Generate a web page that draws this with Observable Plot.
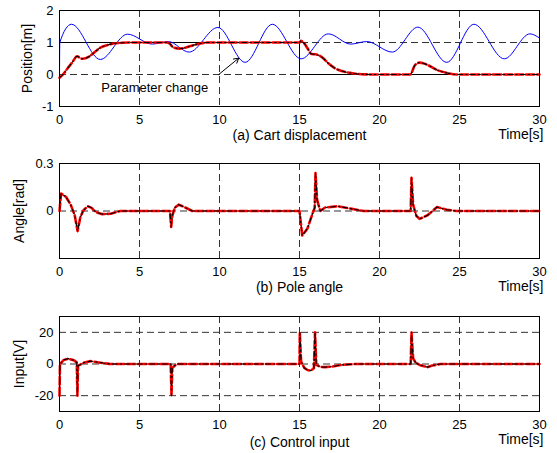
<!DOCTYPE html>
<html><head><meta charset="utf-8">
<script src="https://cdn.jsdelivr.net/npm/d3@7"></script>
<script src="https://cdn.jsdelivr.net/npm/@observablehq/plot@0.6"></script>
<style>
html,body{margin:0;padding:0;background:#fff;}
#chart svg{display:block;}
</style></head><body><div id="chart"></div>
<script>
// ---- shared axis values ----
const timeTicks = [0, 5, 10, 15, 20, 25, 30];
const timeGrid = [5, 10, 15, 20, 25];

// ---- (a) Cart displacement ----
const posTicks = [-1, 0, 1, 2];
const posGrid = [0, 1];
const refT = [0, 15, 15, 30];
const refVal = [1, 1, 0, 0];
const blueT = [0, 0.02, 0.75, 2.55, 4.25, 5.8, 6.8, 8.1, 9.9, 11.6, 13.3, 15.1, 16.8, 18.2, 19.2, 20.8, 22.4, 24.2, 25.9, 27.8, 29.4, 30];
const blueVal = [0, 1.0, 1.57, 0.47, 1.26, 0.95, 1.03, 0.70, 1.47, 0.38, 1.57, 0.49, 1.27, 0.95, 1.03, 0.70, 1.48, 0.38, 1.57, 0.49, 1.27, 1.14];
const posT = [0, 0.25, 0.5, 0.8, 1.1, 1.3, 1.45, 1.85, 2.2, 2.56, 3.0, 3.4, 3.9, 4.4, 6.7, 6.9, 7.1, 7.5, 7.8, 8.2, 8.8, 9.3, 15.0, 15.1, 15.3, 15.5, 15.75, 16.0, 16.2, 16.5, 16.8, 17.2, 17.7, 18.3, 18.9, 19.5, 21.9, 22.0, 22.2, 22.5, 22.8, 23.0, 23.6, 24.2, 24.8, 30];
const posVal = [-0.1, 0.02, 0.19, 0.38, 0.57, 0.51, 0.49, 0.56, 0.70, 0.84, 0.92, 0.97, 0.99, 1.0, 1.0, 0.96, 0.85, 0.81, 0.83, 0.89, 0.97, 1.0, 1.0, 1.05, 0.97, 0.82, 0.64, 0.63, 0.60, 0.50, 0.35, 0.20, 0.10, 0.04, 0.01, 0, 0, 0.05, 0.28, 0.37, 0.34, 0.30, 0.14, 0.05, 0, 0];
const noteText = ["Parameter change"];
const noteAt = [5.95, -0.42];
const arrowFrom = [9.95, 0];
const arrowTo = [11.2, 0.51];

// ---- (b) Pole angle ----
const angTicks = [0, 0.3];
const angGrid = [0];
const angT = [0, 0.1, 0.4, 0.7, 0.95, 1.13, 1.3, 1.5, 1.77, 2.0, 2.25, 2.67, 3.2, 3.8, 6.9, 6.98, 7.05, 7.2, 7.45, 7.8, 8.3, 15.0, 15.17, 15.5, 15.8, 15.95, 16.0, 16.1, 16.3, 16.6, 17.4, 18.2, 19.0, 21.95, 22.0, 22.1, 22.3, 22.5, 23.0, 23.6, 24.2, 24.8, 30];
const angVal = [0, 0.11, 0.09, 0.04, -0.027, -0.127, -0.04, 0.005, 0.03, 0.02, -0.006, -0.02, -0.017, 0, 0, -0.10, -0.03, 0.02, 0.04, 0.025, 0, 0, -0.155, -0.11, -0.02, 0.02, 0.24, 0.07, 0, 0.022, 0.03, 0.015, 0, 0, 0.21, 0.04, -0.03, -0.05, -0.027, 0.025, 0.008, 0, 0];

// ---- (c) Control input ----
const inpTicks = [-20, 0, 20];
const inpGrid = [-20, 0, 20];
const inpT = [0, 0.03, 0.27, 0.55, 0.9, 1.08, 1.12, 1.16, 1.3, 1.55, 1.95, 2.45, 3.1, 3.4, 6.95, 7.0, 7.05, 7.2, 7.4, 15.0, 15.02, 15.1, 15.3, 15.5, 15.7, 15.9, 15.97, 16.05, 16.3, 16.6, 17.0, 17.6, 18.5, 21.95, 22.0, 22.1, 22.25, 22.5, 23.0, 23.3, 23.8, 30];
const inpVal = [-20, 0, 2.6, 3.4, 2.3, 1.0, -20, -1.0, -0.4, 1.0, 1.8, 1.0, 0.1, 0, 0, -20, -2.5, -1.0, 0, 0, 20, 1.5, -2.5, -3.8, -4.2, -2.7, 20, -0.6, -1.8, -2.0, -1.7, -0.6, 0, 0, 20, 3.6, 1.0, -0.6, -2.0, -1.0, 0, 0];

const zip = (T, V) => T.map((t, i) => ({t, v: V[i]}));
const FONT = "'Liberation Sans', Arial, Helvetica, sans-serif";
const gridStyle = {stroke: "#333", strokeWidth: 1, strokeDasharray: "7,4"};

function panel({height, marginTop, marginBottom, yDomain, yTicks, yGrid, yLabel, yLabelDx, title, titleDy, timeDy, series, extra = []}) {
  return Plot.plot({
    width: 557, height, marginTop, marginBottom, marginLeft: 59, marginRight: 18,
    style: {fontFamily: FONT, fontSize: "13px", background: "white", color: "black", overflow: "visible"},
    x: {domain: [0, 30]},
    y: {domain: yDomain},
    marks: [
      Plot.ruleX(timeGrid, gridStyle),
      Plot.ruleY(yGrid, gridStyle),
      ...series,
      ...extra,
      Plot.frame({stroke: "black", strokeWidth: 1}),
      Plot.axisX({ticks: timeTicks, tickSize: 0, tickPadding: 8, tickFormat: d => String(d), label: null, fontSize: 13}),
      Plot.axisY({ticks: yTicks, tickSize: 0, tickPadding: 6, tickFormat: d => String(d), label: null, fontSize: 13}),
      Plot.text([yLabel], {frameAnchor: "left", textAnchor: "middle", lineAnchor: "middle", rotate: -90, dx: yLabelDx, fontSize: 14}),
      Plot.text([title], {frameAnchor: "bottom", textAnchor: "middle", lineAnchor: "bottom", dy: titleDy, fontSize: 14}),
      Plot.text(["Time[s]"], {frameAnchor: "bottom-right", textAnchor: "end", lineAnchor: "bottom", dx: 4, dy: timeDy, fontSize: 14})
    ]
  });
}

function respLines(data, curve) {
  return [
    Plot.line(data, {x: "t", y: "v", stroke: "#ff0000", strokeWidth: 2.6, strokeDasharray: "8,3", curve}),
    Plot.line(data, {x: "t", y: "v", stroke: "black", strokeWidth: 1.1, strokeDasharray: "5,3,1.5,3", curve})
  ];
}

const el = document.getElementById("chart");

el.append(panel({
  height: 150, marginTop: 10, marginBottom: 44,
  yDomain: [-1, 2], yTicks: posTicks, yGrid: posGrid,
  yLabel: "Position[m]", yLabelDx: -31.5,
  title: "(a) Cart displacement", titleDy: 33, timeDy: 32,
  series: [
    Plot.line(zip(refT, refVal), {x: "t", y: "v", stroke: "black", strokeWidth: 1}),
    Plot.line(zip(blueT, blueVal), {x: "t", y: "v", stroke: "#0000ff", strokeWidth: 1, curve: "monotone-x"}),
    ...respLines(zip(posT, posVal), "monotone-x")
  ],
  extra: [
    Plot.arrow([{x1: arrowFrom[0], y1: arrowFrom[1], x2: arrowTo[0], y2: arrowTo[1]}],
      {x1: "x1", y1: "y1", x2: "x2", y2: "y2", stroke: "black", strokeWidth: 1, headLength: 8}),
    Plot.text(noteText, {x: () => noteAt[0], y: () => noteAt[1], fontSize: 13})
  ]
}));

el.append(panel({
  height: 150, marginTop: 13, marginBottom: 42,
  yDomain: [-0.3, 0.3], yTicks: angTicks, yGrid: angGrid,
  yLabel: "Angle[rad]", yLabelDx: -40,
  title: "(b) Pole angle", titleDy: 33, timeDy: 32,
  series: respLines(zip(angT, angVal), "linear")
}));

el.append(panel({
  height: 153, marginTop: 16, marginBottom: 42,
  yDomain: [-30, 30], yTicks: inpTicks, yGrid: inpGrid,
  yLabel: "Input[V]", yLabelDx: -40,
  title: "(c) Control input", titleDy: 35, timeDy: 32,
  series: respLines(zip(inpT, inpVal), "linear")
}));
</script></body></html>
